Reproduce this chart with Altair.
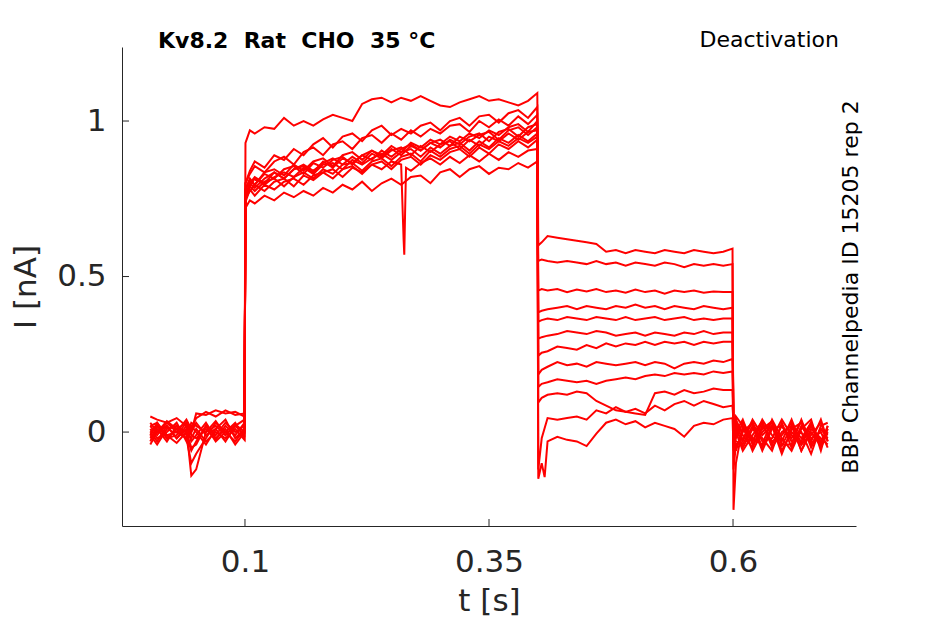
import altair as alt
import pandas as pd

# ---------------- text ----------------
TITLE = "Kv8.2\u00a0 Rat\u00a0 CHO\u00a0 35 °C"
PROTOCOL = "Deactivation"
SOURCE = "BBP Channelpedia ID 15205 rep 2"
X_TITLE = "t [s]"
Y_TITLE = "I [nA]"
X_TICKS = [0.1, 0.35, 0.6]
Y_TICKS = [0, 0.5, 1]
X_DOMAIN = [-0.026, 0.726]
Y_DOMAIN = [-0.302, 1.238]

# ---------------- sample times per protocol segment ----------------
T_HOLD = [0.003, 0.01, 0.02, 0.03, 0.04, 0.045, 0.05, 0.06, 0.07, 0.08, 0.09, 0.0995]
T_ACT = [0.1005, 0.105, 0.11, 0.12, 0.13, 0.14, 0.15, 0.16, 0.17, 0.18, 0.19, 0.20,
         0.21, 0.22, 0.23, 0.24, 0.25, 0.26, 0.27, 0.28, 0.29, 0.30, 0.31, 0.32,
         0.33, 0.34, 0.35, 0.36, 0.37, 0.38, 0.39, 0.3995]
T_DEACT = [0.4005, 0.404, 0.41, 0.42, 0.43, 0.44, 0.45, 0.46, 0.47, 0.48, 0.49,
           0.50, 0.51, 0.52, 0.53, 0.54, 0.55, 0.56, 0.57, 0.58, 0.59, 0.5995]
T_TAIL = [0.6005, 0.603, 0.61, 0.62, 0.63, 0.64, 0.65, 0.66, 0.67, 0.68, 0.69, 0.697]

# ---------------- currents (nA), one row per sweep ----------------
HOLD_I = [
    [0.05, 0.04, 0.03, 0.045, 0.02, 0.0, 0.06, 0.055, 0.07, 0.06, 0.065, 0.05],
    [0.02, -0.01, 0.03, 0.0, 0.04, 0.01, 0.045, 0.065, 0.05, 0.07, 0.055, 0.06],
    [-0.02, 0.01, -0.03, 0.02, -0.01, -0.06, -0.03, 0.02, -0.01, 0.03, 0.0, 0.02],
    [0.0, -0.03, 0.02, -0.02, 0.01, -0.14, -0.12, 0.0, 0.02, -0.01, 0.025, 0.0],
    [-0.03, 0.02, -0.01, -0.035, 0.0, -0.02, 0.01, -0.03, 0.0, -0.02, 0.01, -0.025],
    [0.03, 0.0, 0.035, 0.01, -0.02, -0.1, -0.07, -0.02, 0.03, 0.0, -0.03, 0.01],
    [-0.01, 0.03, -0.02, 0.01, 0.03, -0.01, -0.02, 0.01, -0.025, 0.02, -0.01, 0.03],
    [0.01, -0.02, 0.0, 0.03, -0.03, 0.02, 0.0, -0.04, 0.01, -0.03, 0.02, -0.01],
    [-0.04, 0.0, 0.02, -0.02, 0.02, -0.03, -0.01, 0.03, -0.02, 0.01, -0.04, 0.0],
    [0.02, 0.03, -0.01, 0.0, -0.02, 0.03, 0.02, 0.0, 0.035, -0.01, 0.02, 0.04],
    [-0.01, -0.04, 0.01, 0.02, 0.0, -0.05, -0.04, 0.02, -0.03, 0.0, 0.03, -0.02],
    [0.0, 0.02, -0.02, -0.01, 0.03, 0.0, 0.03, -0.01, 0.01, 0.04, -0.02, 0.01],
]

ACT_I = [
    [0.93, 0.97, 0.96, 0.98, 0.975, 1.01, 0.985, 1.0, 0.985, 1.005, 1.02, 1.01,
     1.0, 1.055, 1.07, 1.075, 1.06, 1.075, 1.065, 1.08, 1.065, 1.05, 1.045, 1.06,
     1.07, 1.08, 1.065, 1.07, 1.06, 1.05, 1.065, 1.09],
    [0.72, 0.745, 0.735, 0.76, 0.745, 0.77, 0.755, 0.775, 0.76, 0.785, 0.77, 0.795,
     0.78, 0.805, 0.775, 0.8, 0.815, 0.795, 0.82, 0.825, 0.8, 0.835, 0.845, 0.82,
     0.845, 0.855, 0.83, 0.85, 0.845, 0.865, 0.85, 0.87],
    [0.75, 0.775, 0.795, 0.775, 0.805, 0.815, 0.79, 0.825, 0.81, 0.835, 0.845, 0.82,
     0.85, 0.835, 0.86, 0.845, 0.87, 0.86, 0.84, 0.865, 0.88, 0.86, 0.885, 0.865,
     0.89, 0.87, 0.895, 0.875, 0.9, 0.885, 0.905, 0.91],
    [0.78, 0.81, 0.795, 0.83, 0.815, 0.845, 0.855, 0.83, 0.865, 0.85, 0.875, 0.885,
     0.86, 0.89, 0.905, 0.885, 0.91, 0.89, 0.92, 0.905, 0.93, 0.915, 0.94, 0.925,
     0.95, 0.96, 0.935, 0.965, 0.975, 0.95, 0.98, 0.99],
    [0.80, 0.84, 0.87, 0.85, 0.89, 0.875, 0.91, 0.89, 0.925, 0.945, 0.915, 0.95,
     0.96, 0.935, 0.97, 0.985, 0.955, 0.975, 0.96, 0.985, 0.995, 0.97, 1.0, 1.01,
     0.985, 1.015, 1.02, 0.995, 1.025, 1.035, 1.01, 1.045],
    [0.76, 0.80, 0.785, 0.815, 0.835, 0.815, 0.845, 0.86, 0.84, 0.865, 0.88, 0.86,
     0.885, 0.865, 0.895, 0.88, 0.905, 0.915, 0.89, 0.92, 0.9, 0.925, 0.935, 0.91,
     0.94, 0.92, 0.95, 0.935, 0.96, 0.94, 0.965, 0.97],
    [0.77, 0.79, 0.815, 0.795, 0.82, 0.835, 0.82, 0.85, 0.83, 0.86, 0.865, 0.845,
     0.875, 0.86, 0.88, 0.895, 0.875, 0.9, 0.91, 0.885, 0.915, 0.895, 0.92, 0.93,
     0.905, 0.935, 0.915, 0.945, 0.93, 0.955, 0.935, 0.96],
    [0.8, 0.83, 0.855, 0.835, 0.87, 0.885, 0.86, 0.9, 0.915, 0.89, 0.925, 0.935,
     0.91, 0.945, 0.955, 0.93, 0.96, 0.94, 0.97, 0.95, 0.975, 0.96, 0.985, 0.99,
     0.965, 1.0, 0.98, 1.005, 0.985, 1.015, 0.99, 1.02],
    [0.74, 0.78, 0.76, 0.795, 0.78, 0.805, 0.815, 0.795, 0.825, 0.835, 0.815, 0.845,
     0.855, 0.83, 0.86, 0.87, 0.845, 0.875, 0.885, 0.86, 0.89, 0.875, 0.9, 0.91,
     0.885, 0.915, 0.895, 0.925, 0.91, 0.935, 0.915, 0.94],
    [0.76, 0.8, 0.82, 0.8, 0.835, 0.815, 0.845, 0.855, 0.835, 0.87, 0.85, 0.88,
     0.865, 0.89, 0.875, 0.905, 0.885, 0.91, 0.925, 0.905, 0.93, 0.94, 0.92, 0.95,
     0.935, 0.955, 0.965, 0.94, 0.97, 0.98, 0.955, 0.98],
    [0.78, 0.815, 0.795, 0.835, 0.845, 0.825, 0.86, 0.84, 0.87, 0.88, 0.855, 0.89,
     0.9, 0.875, 0.905, 0.89, 0.92, 0.9, 0.93, 0.915, 0.94, 0.925, 0.95, 0.935,
     0.96, 0.945, 0.97, 0.955, 0.98, 0.99, 0.965, 1.0],
    [0.75, 0.79, 0.775, 0.805, 0.815, 0.79, 0.82, 0.835, 0.815, 0.845, 0.83, 0.86,
     0.865, 0.84, 0.87, 0.88, 0.855, 0.885, 0.895, 0.87, 0.905, 0.885, 0.91, 0.92,
     0.895, 0.925, 0.91, 0.935, 0.92, 0.945, 0.93, 0.95],
]

DEACT_I = [
    [0.6, 0.61, 0.63, 0.625, 0.62, 0.615, 0.61, 0.605, 0.58, 0.585, 0.575, 0.585,
     0.58, 0.575, 0.585, 0.58, 0.575, 0.585, 0.58, 0.575, 0.58, 0.59],
    [0.55, 0.555, 0.55, 0.545, 0.55, 0.545, 0.54, 0.55, 0.54, 0.545, 0.535, 0.545,
     0.54, 0.535, 0.545, 0.54, 0.53, 0.54, 0.535, 0.54, 0.535, 0.54],
    [0.455, 0.46, 0.455, 0.46, 0.45, 0.458, 0.452, 0.46, 0.45, 0.455, 0.448, 0.458,
     0.45, 0.455, 0.445, 0.455, 0.45, 0.455, 0.448, 0.452, 0.45, 0.45],
    [0.385, 0.39, 0.395, 0.4, 0.405, 0.395, 0.405, 0.4, 0.395, 0.405, 0.4, 0.41,
     0.4, 0.405, 0.395, 0.405, 0.4, 0.395, 0.405, 0.4, 0.395, 0.4],
    [0.355, 0.36, 0.365, 0.36, 0.37, 0.365, 0.36, 0.37, 0.365, 0.36, 0.37, 0.36,
     0.365, 0.37, 0.36, 0.365, 0.37, 0.36, 0.365, 0.36, 0.365, 0.365],
    [0.3, 0.305, 0.31, 0.315, 0.325, 0.32, 0.315, 0.325, 0.32, 0.31, 0.315, 0.32,
     0.31, 0.32, 0.315, 0.31, 0.32, 0.315, 0.325, 0.315, 0.32, 0.32],
    [0.245, 0.255, 0.26, 0.275, 0.27, 0.265, 0.28, 0.27, 0.285, 0.275, 0.285, 0.28,
     0.29, 0.28, 0.29, 0.285, 0.29, 0.28, 0.29, 0.285, 0.29, 0.29],
    [0.185, 0.2, 0.21, 0.225, 0.215, 0.22, 0.21, 0.225, 0.22, 0.215, 0.22, 0.225,
     0.215, 0.225, 0.22, 0.205, 0.22, 0.225, 0.22, 0.23, 0.225, 0.235],
    [0.145, 0.155, 0.16, 0.17, 0.165, 0.16, 0.165, 0.155, 0.165, 0.17, 0.175, 0.17,
     0.18, 0.185, 0.18, 0.19, 0.185, 0.19, 0.185, 0.195, 0.19, 0.195],
    [0.095, 0.11, 0.12, 0.125, 0.12, 0.13, 0.125, 0.1, 0.085, 0.07, 0.065, 0.06,
     0.055, 0.125, 0.13, 0.12, 0.135, 0.125, 0.13, 0.14, 0.135, 0.135],
    [-0.12, -0.02, 0.045, 0.04, 0.045, 0.05, 0.04, 0.07, 0.06, 0.08, 0.065, 0.075,
     0.06, 0.085, 0.07, 0.09, 0.1, 0.085, 0.1, 0.09, 0.08, 0.085],
    [-0.15, -0.1, -0.03, -0.015, -0.025, -0.03, -0.045, -0.005, 0.03, 0.04, 0.025, 0.035,
     0.015, 0.03, 0.02, 0.01, -0.015, 0.02, 0.03, 0.025, 0.04, 0.045],
]

TAIL_I = [
    [-0.25, -0.1, 0.02, -0.03, 0.03, -0.04, 0.02, -0.02, 0.035, -0.05, 0.01, -0.02],
    [-0.12, -0.04, -0.02, 0.03, -0.05, 0.02, -0.03, 0.04, -0.04, 0.02, -0.03, 0.01],
    [-0.06, 0.0, 0.04, -0.04, 0.01, 0.035, -0.06, 0.0, -0.03, 0.03, -0.05, 0.0],
    [-0.03, 0.02, -0.05, 0.01, -0.02, -0.06, 0.03, -0.05, 0.02, -0.03, 0.04, -0.03],
    [-0.02, -0.06, 0.01, -0.03, 0.04, -0.01, -0.045, 0.02, -0.06, 0.01, -0.02, -0.04],
    [0.0, -0.03, -0.04, 0.02, -0.06, 0.01, 0.02, -0.03, 0.0, -0.07, 0.02, 0.03],
    [0.01, 0.04, -0.01, -0.05, 0.02, -0.03, -0.01, 0.03, -0.06, 0.0, -0.045, 0.01],
    [-0.04, 0.03, -0.03, 0.04, -0.01, 0.02, -0.07, 0.01, 0.03, -0.02, 0.0, -0.05],
    [0.02, -0.02, 0.03, -0.02, -0.04, 0.04, -0.02, -0.06, 0.01, 0.04, -0.06, 0.02],
    [-0.01, -0.05, 0.0, 0.03, -0.03, -0.02, 0.04, -0.01, -0.04, -0.01, 0.03, -0.03],
    [0.03, 0.0, -0.06, -0.01, 0.035, -0.05, 0.0, 0.02, -0.02, 0.03, -0.04, 0.02],
    [-0.05, 0.05, 0.02, -0.06, 0.0, 0.03, -0.04, -0.04, 0.04, -0.04, 0.01, -0.01],
]

# short transients (sweep index -> (t, I) samples)
EXTRA = {
    2: [(0.2625, 0.62), (0.2632, 0.57), (0.2640, 0.70), (0.2650, 0.85)],
    11: [(0.407, -0.145)],
}

rows = []
for k in range(len(HOLD_I)):
    ts = T_HOLD + T_ACT + T_DEACT + T_TAIL
    vs = HOLD_I[k] + ACT_I[k] + DEACT_I[k] + TAIL_I[k]
    pts = list(zip(ts, vs)) + EXTRA.get(k, [])
    for t, v in pts:
        rows.append({"sweep": k, "t": t, "I": v})
df = pd.DataFrame(rows)

AX = "#262626"
FONT = "DejaVu Sans"
W, H = 734, 479

x_scale = alt.Scale(domain=X_DOMAIN, nice=False, zero=False)
y_scale = alt.Scale(domain=Y_DOMAIN, nice=False, zero=False)

x_axis = alt.Axis(values=X_TICKS, format="~g", title=X_TITLE, grid=False,
                  ticks=False, tickSize=0, domainColor=AX, domainWidth=1,
                  labelFont=FONT, labelFontSize=31, labelColor=AX,
                  labelPadding=21, titleFont=FONT, titleFontSize=31,
                  titleFontWeight="normal", titleColor=AX, titlePadding=9,
                  labelFlush=False)
y_axis = alt.Axis(values=Y_TICKS, format="~g", title=Y_TITLE, grid=False,
                  ticks=False, tickSize=0, domainColor=AX, domainWidth=1,
                  labelFont=FONT, labelFontSize=31, labelColor=AX,
                  labelPadding=16, titleFont=FONT, titleFontSize=31,
                  titleFontWeight="normal", titleColor=AX, titlePadding=14,
                  labelFlush=False)

lines = alt.Chart(df).mark_line(color="#ff0000", strokeWidth=2).encode(
    x=alt.X("t:Q", scale=x_scale, axis=x_axis),
    y=alt.Y("I:Q", scale=y_scale, axis=y_axis),
    detail="sweep:N",
    order="t:Q",
)

# inward-pointing tick marks at the tick values
xt = alt.Chart(pd.DataFrame({"t": X_TICKS})).mark_rule(color=AX, strokeWidth=1).encode(
    x=alt.X("t:Q"), y=alt.value(H), y2=alt.value(H - 7))
yt = alt.Chart(pd.DataFrame({"I": Y_TICKS})).mark_rule(color=AX, strokeWidth=1).encode(
    y=alt.Y("I:Q"), x=alt.value(0), x2=alt.value(7))

title = alt.Chart(pd.DataFrame({"s": [TITLE]})).mark_text(
    font=FONT, fontSize=22, fontWeight="bold", color="black", align="left",
    baseline="alphabetic").encode(text="s:N", x=alt.value(36), y=alt.value(1))
proto = alt.Chart(pd.DataFrame({"s": [PROTOCOL]})).mark_text(
    font=FONT, fontSize=22, color="black", align="right",
    baseline="alphabetic").encode(text="s:N", x=alt.value(717), y=alt.value(0))
source = alt.Chart(pd.DataFrame({"s": [SOURCE]})).mark_text(
    font=FONT, fontSize=22, color="black", align="center", angle=270,
    baseline="alphabetic").encode(text="s:N", x=alt.value(736), y=alt.value(240))

chart = alt.layer(lines, xt, yt, title, proto, source).properties(
    width=W, height=H,
    autosize=alt.AutoSizeParams(type="none"),
    padding={"left": 114, "top": 39, "right": 80, "bottom": 90},
    background="white",
).configure_view(stroke=None)

chart.save("out.html", embed_options={"renderer": "svg", "actions": False})
